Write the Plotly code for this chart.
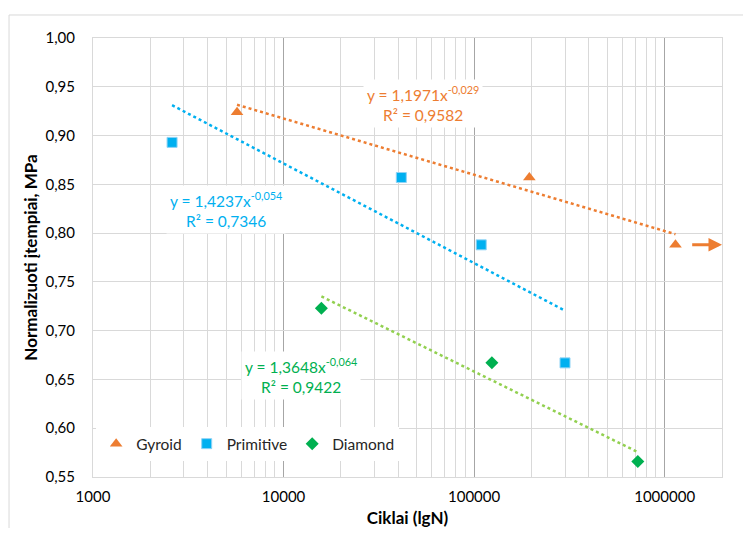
import numpy as np
import plotly.graph_objects as go

# ---- data ----
gyroid_x = [5700, 195000, 1140000]
gyroid_y = [0.924, 0.857, 0.788]
primitive_x = [2600, 41500, 109000, 300000]
primitive_y = [0.893, 0.857, 0.788, 0.667]
diamond_x = [15800, 124000, 723000]
diamond_y = [0.723, 0.667, 0.566]

# power trendline coefficients (y = a * x^b) as printed on chart
gyroid_fit = (1.1971, -0.029, 0.9582)
primitive_fit = (1.4237, -0.054, 0.7346)
diamond_fit = (1.3648, -0.064, 0.9422)

y_tick_vals = [0.55, 0.60, 0.65, 0.70, 0.75, 0.80, 0.85, 0.90, 0.95, 1.00]
y_tick_text = ["0,55", "0,60", "0,65", "0,70", "0,75", "0,80", "0,85", "0,90", "0,95", "1,00"]
x_tick_vals = [1000, 10000, 100000, 1000000]
x_tick_text = ["1000", "10000", "100000", "1000000"]

C_G = "#ED7D31"
C_P = "#00B0F0"
C_D = "#00B050"
C_DL = "#92D050"
FONT = "Lato"

fig = go.Figure()

def trend(xs, fit):
    a, b, _ = fit
    xx = np.array([min(xs), max(xs)], dtype=float)
    return xx, a * xx ** b

for xs, fit, col in [(gyroid_x, gyroid_fit, C_G), (primitive_x, primitive_fit, C_P), (diamond_x, diamond_fit, C_DL)]:
    tx, ty = trend(xs, fit)
    fig.add_trace(go.Scatter(x=tx, y=ty, mode="lines", line=dict(color=col, width=2.5, dash="dot"),
                             showlegend=False, hoverinfo="skip"))

fig.add_trace(go.Scatter(x=gyroid_x, y=gyroid_y, mode="markers", name="Gyroid",
                         marker=dict(symbol="triangle-up", size=11, color=C_G)))
fig.add_trace(go.Scatter(x=primitive_x, y=primitive_y, mode="markers", name="Primitive",
                         marker=dict(symbol="square", size=10, color=C_P, line=dict(color="#8FD3F5", width=1))))
fig.add_trace(go.Scatter(x=diamond_x, y=diamond_y, mode="markers", name="Diamond",
                         marker=dict(symbol="diamond", size=10, color=C_D)))

def fmt(v, nd):
    return f"{v:.{nd}f}".replace(".", ",")

def label(fit):
    a, b, r2 = fit
    return f"y = {fmt(a,4)}x<sup>{fmt(b,3)}</sup><br>R² = {fmt(r2,4)}"

labels = [
    (gyroid_fit, C_G, 4.733, 0.9324),
    (primitive_fit, C_P, 3.696, 0.8238),
    (diamond_fit, C_D, 4.094, 0.6537),
]
for fit, col, lx, ly in labels:
    fig.add_annotation(x=lx, y=ly, xref="x", yref="y", text=label(fit), showarrow=False,
                       font=dict(family=FONT, size=15.5, color=col), bgcolor="white",
                       borderpad=3, align="center")

# run-out arrow
fig.add_annotation(x=np.log10(2.0e6), y=gyroid_y[-1], ax=np.log10(1.37e6), ay=gyroid_y[-1],
                   xref="x", yref="y", axref="x", ayref="y", text="", showarrow=True,
                   arrowhead=2, arrowsize=0.9, arrowwidth=3, arrowcolor=C_G)

# outer chart frame
fig.add_shape(type="rect", xref="paper", yref="paper", x0=-0.1335, x1=1.2, y0=-0.5, y1=1.0524,
              line=dict(color="#D9D9D9", width=1), layer="below")

minor_vals = [m * 10 ** e for e in range(3, 7) for m in range(2, 10) if m * 10 ** e <= 2.0e6]

fig.update_layout(
    width=735, height=520,
    margin=dict(l=85, r=21, t=30, b=51),
    paper_bgcolor="white", plot_bgcolor="white",
    font=dict(family=FONT, size=15, color="#000000"),
    showlegend=True,
    legend=dict(orientation="h", x=0.005, y=0.075, xanchor="left", yanchor="middle",
                bgcolor="white", font=dict(family=FONT, size=15.5, color="#262626"),
                itemwidth=30, tracegroupgap=0),
    xaxis=dict(type="log", range=[3, np.log10(2.0e6)], tickvals=x_tick_vals, ticktext=x_tick_text,
               showgrid=True, gridcolor="#A6A6A6", gridwidth=1,
               minor=dict(tickvals=minor_vals, showgrid=True, gridcolor="#D9D9D9", gridwidth=1, ticks=""),
               showline=True, linecolor="#D9D9D9", mirror=True, zeroline=False, ticks="",
               ticklabelstandoff=6, automargin=False,
               tickfont=dict(family=FONT, size=15, color="#000000"),
               title=dict(text="<b>Ciklai (lgN)</b>", font=dict(family=FONT, size=17), standoff=8)),
    yaxis=dict(range=[0.55, 1.00], tickvals=y_tick_vals, ticktext=y_tick_text,
               showgrid=True, gridcolor="#D9D9D9", gridwidth=1,
               showline=True, linecolor="#D9D9D9", mirror=True, zeroline=False, ticks="",
               ticklabelstandoff=14, automargin=False,
               tickfont=dict(family=FONT, size=15, color="#000000"),
               title=dict(text="<b>Normalizuoti įtempiai, MPa</b>", font=dict(family=FONT, size=17), standoff=3)),
)

fig.write_html("out.html")
